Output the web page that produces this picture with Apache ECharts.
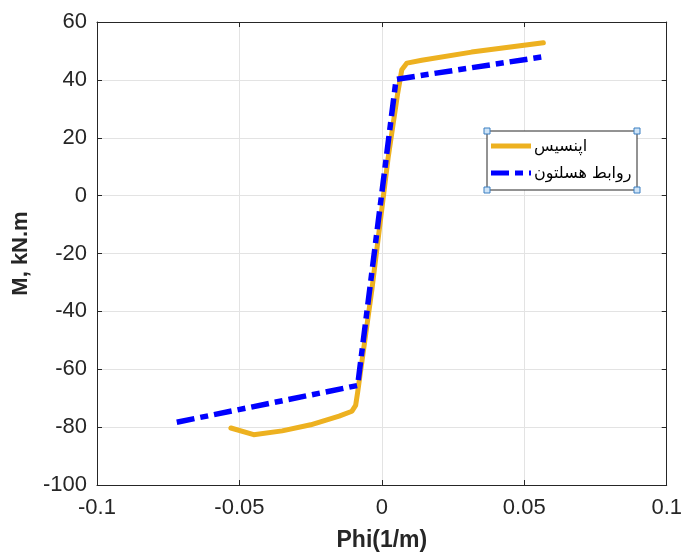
<!DOCTYPE html>
<html>
<head>
<meta charset="utf-8">
<script src="https://cdn.jsdelivr.net/npm/echarts@6/dist/echarts.min.js"></script>
<style>
  html, body { margin: 0; padding: 0; background: #fff; }
  #chart { width: 685px; height: 557px; }
</style>
</head>
<body>
<div id="chart"></div>
<script>
// Moment–curvature response: OpenSees analysis vs. analytical relations
const seriesNames = ['اپنسیس', 'روابط هسلتون'];

// OpenSees curve: [curvature (1/m), moment (kN.m)]
const openseesCurve = [
  [-0.053, -80.3], [-0.045, -82.6], [-0.035, -81.3], [-0.025, -79.2],
  [-0.015, -76.2], [-0.0105, -74.5], [-0.0092, -72.5], [-0.0085, -68.0],
  [-0.0035, -32.5], [0.0022, 13.0], [0.0055, 35.0], [0.0070, 43.5],
  [0.0088, 45.8], [0.014, 46.8], [0.0315, 49.6], [0.0567, 52.8]
];

// Analytical relations: piecewise bilinear curve
const relationCurve = [
  [-0.072, -78.3], [-0.0085, -65.6], [0.005, 40.2], [0.058, 48.2]
];

const xTicks = { min: -0.1, max: 0.1, step: 0.05 };
const yTicks = { min: -100, max: 60, step: 20 };

const textColor = '#262626';
const gridColor = '#e3e3e3';
const font = '"Liberation Sans", Arial, sans-serif';
const orange = '#EDB120';
const blue = '#0000FF';
const dashDot = [18, 6, 8, 6];

const chart = echarts.init(document.getElementById('chart'), null, { renderer: 'canvas' });

function valueAxis(opts) {
  return Object.assign({
    type: 'value',
    axisLine: { show: true, onZero: false, lineStyle: { color: textColor, width: 1 } },
    axisTick: { show: true, inside: true, length: 5, lineStyle: { color: textColor } },
    splitLine: { show: false },
    axisLabel: { show: false }
  }, opts);
}

// Legend box, drawn as a small graphic group
const legendBox = { x: 487, y: 131, w: 150, h: 59 };
const legendRows = [
  { name: seriesNames[0], y: 146, color: orange, dash: null },
  { name: seriesNames[1], y: 173, color: blue, dash: dashDot }
];
const legendGraphic = [
  {
    type: 'rect', z: 90,
    shape: { x: legendBox.x, y: legendBox.y, width: legendBox.w, height: legendBox.h },
    style: { fill: '#ffffff', stroke: '#262626', lineWidth: 1 }
  }
];
legendRows.forEach(r => {
  legendGraphic.push({
    type: 'line', z: 91,
    shape: { x1: legendBox.x + 4, y1: r.y, x2: legendBox.x + 44, y2: r.y },
    style: { stroke: r.color, lineWidth: 5, lineDash: r.dash || null }
  });
  legendGraphic.push({
    type: 'text', z: 91,
    x: legendBox.x + 47, y: r.y + 1,
    style: {
      text: r.name, fill: '#000', fontFamily: '"DejaVu Sans", sans-serif', fontSize: 16,
      textAlign: 'left', textVerticalAlign: 'middle'
    }
  });
});
[legendBox.x, legendBox.x + legendBox.w].forEach(x => {
  [legendBox.y, legendBox.y + legendBox.h].forEach(y => {
    legendGraphic.push({
      type: 'rect', z: 100,
      shape: { x: x - 3, y: y - 3, width: 6, height: 6 },
      style: { fill: '#cfe4f7', stroke: '#3a7fc1', lineWidth: 1 }
    });
  });
});

chart.setOption({
  animation: false,
  backgroundColor: '#ffffff',
  grid: { left: 97, right: 17, top: 22, bottom: 66, containLabel: false },
  xAxis: [
    valueAxis({
      position: 'bottom',
      min: xTicks.min, max: xTicks.max, interval: xTicks.step,
      splitLine: { show: true, lineStyle: { color: gridColor, width: 1 } },
      axisLabel: {
        show: true, color: textColor, fontFamily: font, fontSize: 22, margin: 12,
        formatter: v => (Math.abs(v) < 1e-12 ? '0' : String(+v.toFixed(2)))
      },
      name: 'Phi(1/m)', nameLocation: 'middle', nameGap: 44,
      nameTextStyle: { color: textColor, fontFamily: font, fontSize: 23, fontWeight: 'bold' }
    }),
    valueAxis({ position: 'top', min: xTicks.min, max: xTicks.max, interval: xTicks.step })
  ],
  yAxis: [
    valueAxis({
      position: 'left',
      min: yTicks.min, max: yTicks.max, interval: yTicks.step,
      splitLine: { show: true, lineStyle: { color: gridColor, width: 1 } },
      axisLabel: { show: true, color: textColor, fontFamily: font, fontSize: 22, margin: 10 },
      name: 'M, kN.m', nameLocation: 'middle', nameGap: 60, nameRotate: 90,
      nameTextStyle: { color: textColor, fontFamily: font, fontSize: 22, fontWeight: 'bold' }
    }),
    valueAxis({ position: 'right', min: yTicks.min, max: yTicks.max, interval: yTicks.step })
  ],
  series: [
    {
      name: seriesNames[0], type: 'line', data: openseesCurve,
      showSymbol: false, symbol: 'none',
      lineStyle: { color: orange, width: 5, cap: 'round', join: 'round' },
      z: 2
    },
    {
      name: seriesNames[1], type: 'line', data: relationCurve,
      showSymbol: false, symbol: 'none',
      lineStyle: { color: blue, width: 5.5, type: dashDot },
      z: 3
    }
  ],
  graphic: legendGraphic
});
</script>
</body>
</html>
